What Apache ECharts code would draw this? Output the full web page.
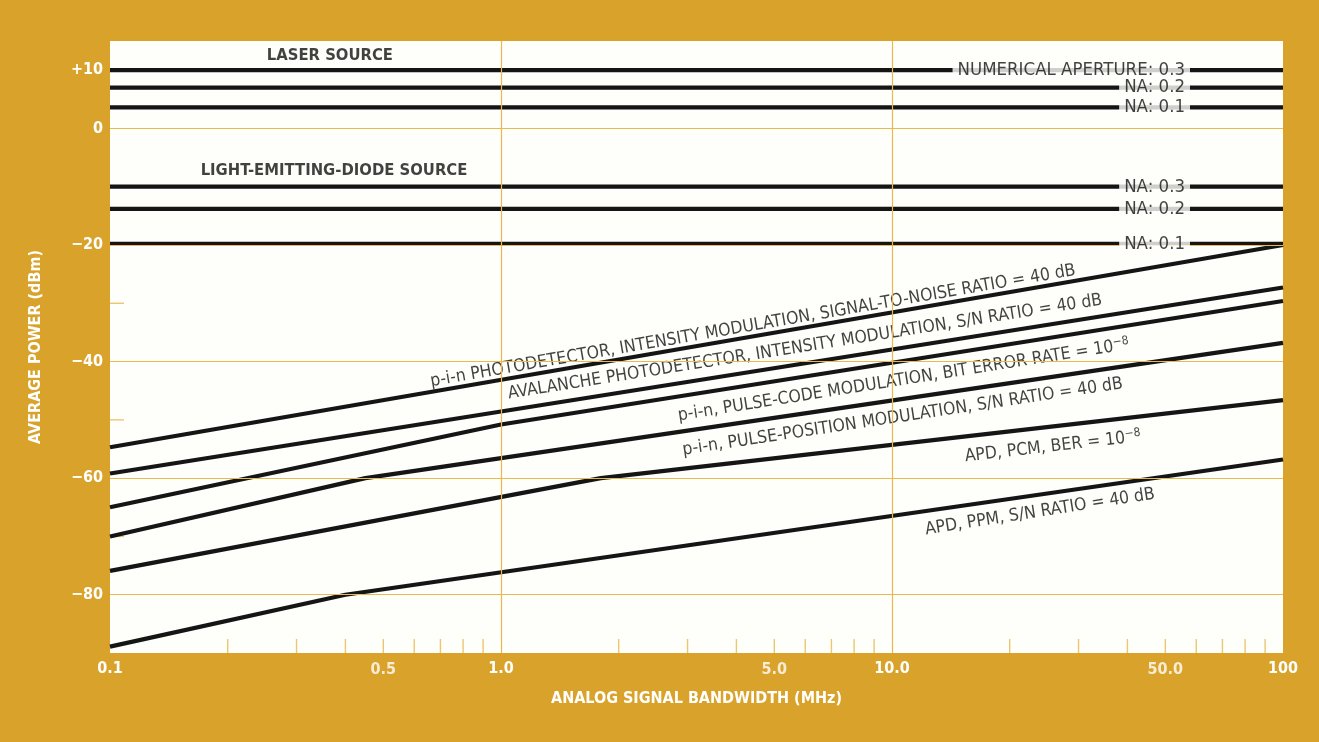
<!DOCTYPE html>
<html><head><meta charset="utf-8">
<script src="https://cdn.jsdelivr.net/npm/echarts@6/dist/echarts.min.js"></script>
<style>html,body{margin:0;padding:0;background:#D9A32B;} #c{width:1319px;height:742px;}</style>
</head><body><div id="c"></div>
<script>
// ---------- data ----------
const xMinorTicks = [0.2,0.3,0.4,0.5,0.6,0.7,0.8,0.9,2,3,4,5,6,7,8,9,20,30,40,50,60,70,80,90];
const xTickValues = [0.1,0.5,1,5,10,50,100];
const xTickLabels = ['0.1','0.5','1.0','5.0','10.0','50.0','100'];
const yTickValues = [10,0,-20,-40,-60,-80];
const yTickLabels = ['+10','0','\u221220','\u221240','\u221260','\u221280'];
const yMinorTicks = [-10,-30,-50,-70];
const yGridValues = [0,-20,-40,-60,-80];
const xGridValues = [1,10];

const bandEdges = [0.1, 100];
const laserPower = [10, 7, 3.6];
const laserNames = ['NUMERICAL APERTURE: 0.3','NA: 0.2','NA: 0.1'];
const ledPower = [-10, -13.8, -19.8];
const ledNames = ['NA: 0.3','NA: 0.2','NA: 0.1'];
const naLabelAt = 58;

const pinIM  = [[0.1,-54.7],[100,-20]];
const apdIM  = [[0.1,-59.2],[100,-27.3]];
const pinPCM = [[0.1,-65.0],[1.0,-50.8],[100,-29.6]];
const pinPPM = [[0.1,-70.0],[0.45,-60],[100,-36.8]];
const apdPCM = [[0.1,-75.9],[1.8,-60],[100,-46.6]];
const apdPPM = [[0.1,-88.9],[0.4,-80],[100,-56.8]];

const curveLabels = [
  '{a|p-i-n PHOTODETECTOR, INTENSITY MODULATION, SIGNAL-TO-NOISE RATIO = 40 dB}',
  '{a|AVALANCHE PHOTODETECTOR, INTENSITY MODULATION, S/N RATIO = 40 dB}',
  '{a|p-i-n, PULSE-CODE MODULATION, BIT ERROR RATE = 10}{s|\u22128}',
  '{a|p-i-n, PULSE-POSITION MODULATION, S/N RATIO = 40 dB}',
  '{a|APD, PCM, BER = 10}{s|\u22128}',
  '{a|APD, PPM, S/N RATIO = 40 dB}'
];
const curveLabelAt = [[4.41,-33.9],[5.99,-37.5],[10.7,-43.2],[10.65,-49.5],[25.8,-54.6],[23.9,-65.8]];
const curveLabelAngle = [9.8, 9.0, 9.0, 8.6, 6.6, 8.9];

const headerNames = ['LASER SOURCE','LIGHT-EMITTING-DIODE SOURCE'];
const headerAt = [[0.365,12.4],[0.374,-7.3]];

// ---------- styles ----------
const FONT = "'Liberation Sans Narrow','DejaVu Sans Condensed','Roboto Condensed',sans-serif";
const GOLD = '#D9A32B';
const GRIDGOLD = '#E8B94E';
const INK = '#151515';
const TXT = '#111111';

function fmt(list, labels){
  return function(v){
    for (let i=0;i<list.length;i++){ if (Math.abs(list[i]-v) < 1e-6*Math.max(1,Math.abs(v))) return labels[i]; }
    return '';
  };
}

const lineSeries = [];
function addLine(data){
  lineSeries.push({type:'line', data:data, symbol:'none', z:3, silent:true,
    lineStyle:{color:INK, width:4.2}, clip:false});
}
laserPower.forEach(p => addLine(bandEdges.map(x => [x,p])));
ledPower.forEach(p => addLine(bandEdges.map(x => [x,p])));
[pinIM, apdIM, pinPCM, pinPPM, apdPCM, apdPPM].forEach(d => addLine(d));

const majorX = [0.5,5,50];

const option = {
  backgroundColor: GOLD,
  animation: false,
  grid: {left:110, right:36, top:41, bottom:89, show:true, backgroundColor:'#FEFEFB', borderWidth:0},
  xAxis: {
    type:'log', logBase:10, min:0.1, max:100,
    name:'ANALOG SIGNAL BANDWIDTH (MHz)', nameLocation:'middle', nameGap:38,
    nameTextStyle:{color:'#fff', fontFamily:FONT, fontWeight:'bold', fontSize:16},
    axisLine:{show:false}, axisTick:{show:false}, splitLine:{show:false},
    axisLabel:{color:'#fff', fontFamily:FONT, fontWeight:'bold', fontSize:16, margin:8,
      formatter: fmt(xTickValues, xTickLabels)}
  },
  yAxis: {
    type:'value', min:-90, max:15, interval:10,
    name:'AVERAGE POWER (dBm)', nameLocation:'middle', nameGap:66, nameRotate:90,
    nameTextStyle:{color:'#fff', fontFamily:FONT, fontWeight:'bold', fontSize:16},
    axisLine:{show:false}, axisTick:{show:false}, splitLine:{show:false},
    axisLabel:{color:'#fff', fontFamily:FONT, fontWeight:'bold', fontSize:16, margin:7,
      formatter: fmt(yTickValues, yTickLabels)}
  },
  series: [
    {type:'scatter', z:1, silent:true, symbol:'rect', symbolSize:[1.4,14], symbolOffset:[0,-7],
      itemStyle:{color:GRIDGOLD}, data: xMinorTicks.map(v => [v,-90]),
      markLine:{silent:true, symbol:'none', label:{show:false}, animation:false,
        lineStyle:{color:GRIDGOLD, width:1.2, type:'solid'},
        data: yGridValues.map(v => ({yAxis:v})).concat(xGridValues.map(v => ({xAxis:v})))}},
    {type:'scatter', z:1, silent:true, symbol:'rect', symbolSize:[14,1.4], symbolOffset:[7,0],
      itemStyle:{color:GRIDGOLD}, data: yMinorTicks.map(v => [0.1,v])},
    {type:'scatter', z:1, silent:true, symbolSize:1, itemStyle:{color:'rgba(0,0,0,0)'},
      data: majorX.map(v => [v,-90]),
      label:{show:true, position:'bottom', distance:8, color:'#fff', fontFamily:FONT, fontWeight:'bold', fontSize:16,
        formatter: p => fmt(xTickValues, xTickLabels)(p.value[0])}},
    {type:'scatter', z:2, silent:true, symbolSize:1, itemStyle:{color:'rgba(0,0,0,0)'},
      data: curveLabelAt.map((c,i) => ({value:c, label:{formatter:curveLabels[i], rotate:curveLabelAngle[i]}})),
      label:{show:true, position:'inside', backgroundColor:'#FEFEFB', padding:[2,6],
        rich:{a:{fontFamily:FONT, fontSize:17.5, color:TXT, lineHeight:20},
              s:{fontFamily:FONT, fontSize:12, color:TXT, verticalAlign:'top', lineHeight:14}}}},
    {type:'scatter', z:2, silent:true, symbolSize:1, itemStyle:{color:'rgba(0,0,0,0)'},
      data: headerAt.map((c,i) => ({value:c, name:headerNames[i]})),
      label:{show:true, position:'inside', formatter:'{b}', color:TXT, fontFamily:FONT, fontWeight:'bold', fontSize:16.5}},
    {type:'scatter', z:5, silent:true, symbolSize:1, itemStyle:{color:'rgba(0,0,0,0)'},
      data: laserPower.map((p,i) => ({value:[naLabelAt,p], name:laserNames[i]}))
        .concat(ledPower.map((p,i) => ({value:[naLabelAt,p], name:ledNames[i]}))),
      label:{show:true, position:'left', distance:0, formatter:'{b}', color:TXT, fontFamily:FONT, fontSize:18.5,
        backgroundColor:'#FEFEFB', padding:[0,5,0,5]}}
  ].concat(lineSeries)
};
const chart = echarts.init(document.getElementById('c'));
chart.setOption(option);
</script></body></html>
